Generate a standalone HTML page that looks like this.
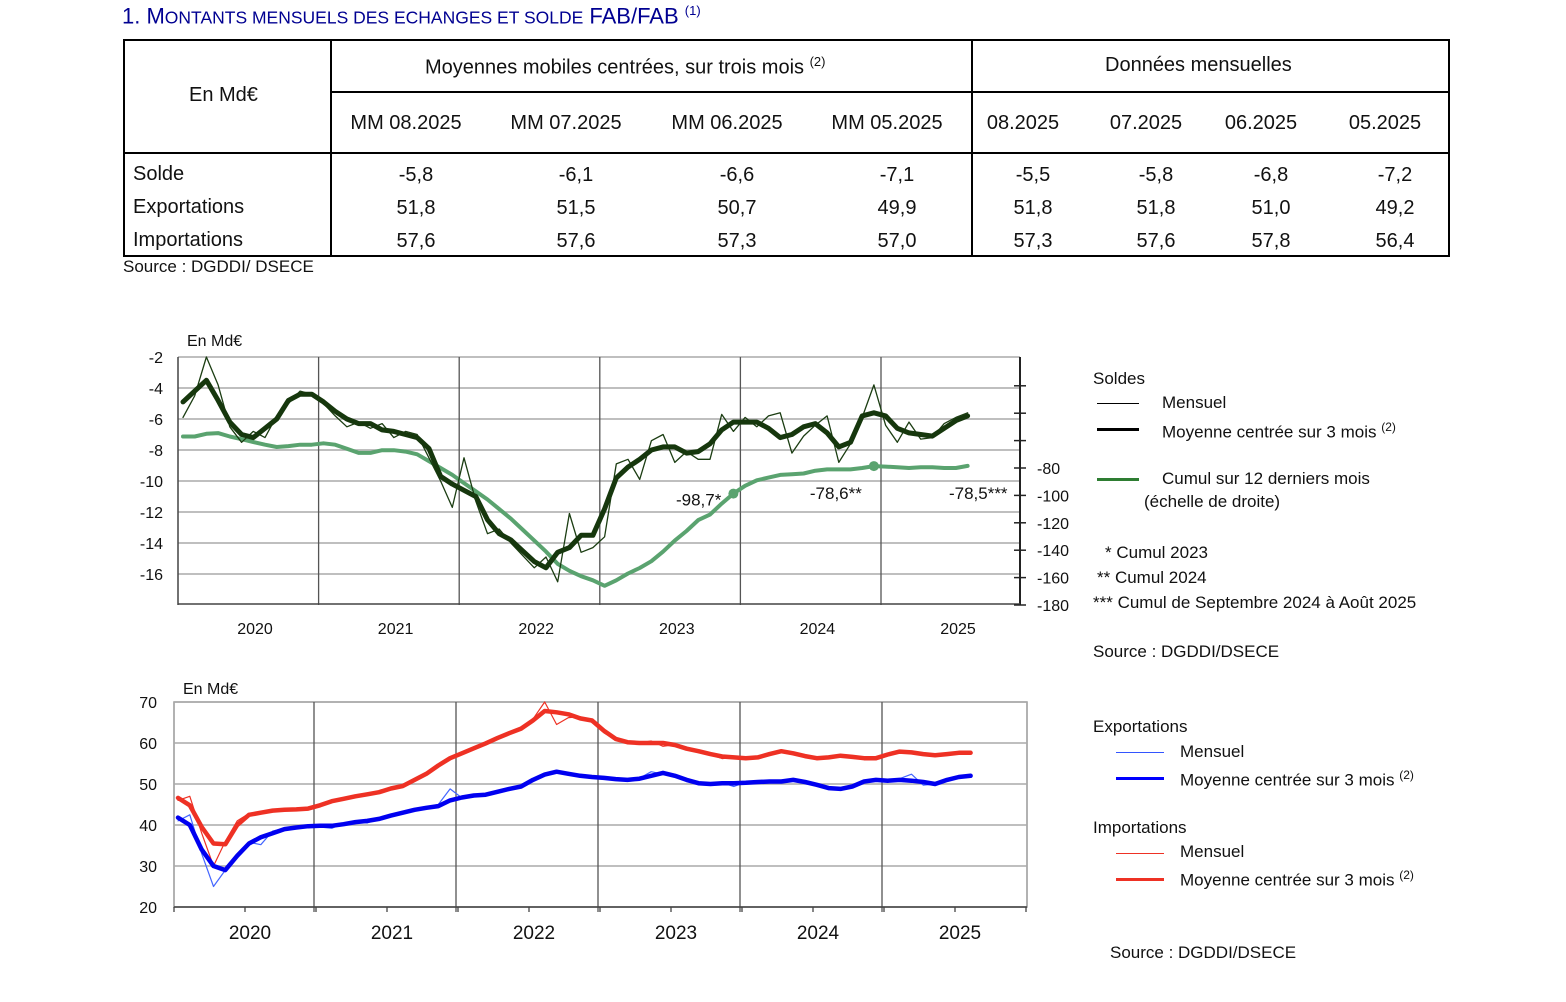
<!DOCTYPE html>
<html><head><meta charset="utf-8">
<style>
body{margin:0;width:1566px;height:1002px;background:#fff;font-family:"Liberation Sans",sans-serif;color:#111;position:relative;overflow:hidden}
.a{position:absolute;white-space:nowrap}
#title{left:122px;top:3px;font-size:22px;color:#000091}
#title .sc{font-size:17.5px}
.lg{font-size:17px}
</style></head><body>
<div class="a" id="title">1. M<span class="sc">ONTANTS MENSUELS DES ECHANGES ET SOLDE</span> FAB/FAB <sup style="font-size:13px">(1)</sup></div>

<div class="a" style="left:123px;top:39px;width:1323px;height:214px;border:2px solid #000"></div>
<div class="a" style="left:330px;top:39px;width:2px;height:216px;background:#000"></div>
<div class="a" style="left:971px;top:39px;width:2px;height:216px;background:#000"></div>
<div class="a" style="left:330px;top:91px;width:1118px;height:2px;background:#000"></div>
<div class="a" style="left:123px;top:152px;width:1325px;height:2px;background:#000"></div>
<div class="a" style="left:189px;top:84px;font-size:20px">En Md€</div>
<div class="a" style="left:425px;top:54px;font-size:20px">Moyennes mobiles centrées, sur trois mois <sup style="font-size:13px">(2)</sup></div>
<div class="a" style="left:1105px;top:54px;font-size:20px">Données mensuelles</div>
<div id="tbl"></div>
<div class="a" style="left:123px;top:257px;font-size:17px">Source : DGDDI/ DSECE</div>

<svg class="a" style="left:0;top:0" width="1566" height="1002" id="svg"></svg>

<div class="a lg" style="left:1093px;top:369px">Soldes</div>
<div class="a" style="left:1097px;top:403px;width:42px;height:1px;background:#000"></div>
<div class="a lg" style="left:1162px;top:393px">Mensuel</div>
<div class="a" style="left:1097px;top:428px;width:42px;height:3px;background:#000"></div>
<div class="a lg" style="left:1162px;top:420px">Moyenne centrée sur 3 mois <sup style="font-size:12px">(2)</sup></div>
<div class="a" style="left:1097px;top:478px;width:42px;height:3px;background:#2e7d32"></div>
<div class="a lg" style="left:1162px;top:469px">Cumul sur 12 derniers mois</div>
<div class="a lg" style="left:1144px;top:492px">(échelle de droite)</div>
<div class="a lg" style="left:1105px;top:543px">* Cumul 2023</div>
<div class="a lg" style="left:1097px;top:568px">** Cumul 2024</div>
<div class="a lg" style="left:1093px;top:593px">*** Cumul de Septembre 2024 à Août 2025</div>
<div class="a lg" style="left:1093px;top:642px">Source : DGDDI/DSECE</div>

<div class="a lg" style="left:1093px;top:717px">Exportations</div>
<div class="a" style="left:1116px;top:752px;width:48px;height:1px;background:#3355ff"></div>
<div class="a lg" style="left:1180px;top:742px">Mensuel</div>
<div class="a" style="left:1116px;top:777px;width:48px;height:3px;background:#0000ff"></div>
<div class="a lg" style="left:1180px;top:768px">Moyenne centrée sur 3 mois <sup style="font-size:12px">(2)</sup></div>
<div class="a lg" style="left:1093px;top:818px">Importations</div>
<div class="a" style="left:1116px;top:853px;width:48px;height:1px;background:#ee3124"></div>
<div class="a lg" style="left:1180px;top:842px">Mensuel</div>
<div class="a" style="left:1116px;top:878px;width:48px;height:3px;background:#ee3124"></div>
<div class="a lg" style="left:1180px;top:868px">Moyenne centrée sur 3 mois <sup style="font-size:12px">(2)</sup></div>
<div class="a lg" style="left:1110px;top:943px">Source : DGDDI/DSECE</div>

<script>
const tableCols=["MM 08.2025","MM 07.2025","MM 06.2025","MM 05.2025","08.2025","07.2025","06.2025","05.2025"];
const tableRows=["Solde","Exportations","Importations"];
const tableVals=[["-5,8","-6,1","-6,6","-7,1","-5,5","-5,8","-6,8","-7,2"],["51,8","51,5","50,7","49,9","51,8","51,8","51,0","49,2"],["57,6","57,6","57,3","57,0","57,3","57,6","57,8","56,4"]];
const yearLabels=["2020","2021","2022","2023","2024","2025"];
const soldeMM=[-4.9,-4.2,-3.5,-4.8,-6.2,-7.0,-7.2,-6.6,-6.0,-4.8,-4.4,-4.4,-4.9,-5.5,-6.0,-6.3,-6.3,-6.7,-6.8,-7.0,-7.2,-7.9,-9.7,-10.2,-10.6,-11.0,-12.5,-13.4,-13.8,-14.5,-15.2,-15.6,-14.6,-14.3,-13.5,-13.5,-11.8,-9.8,-9.1,-8.6,-8.0,-7.8,-7.8,-8.2,-8.1,-7.6,-6.7,-6.2,-6.2,-6.2,-6.6,-7.2,-7.0,-6.5,-6.3,-6.9,-7.8,-7.5,-5.8,-5.6,-5.8,-6.6,-6.9,-7.0,-7.1,-6.6,-6.1,-5.8];
const soldeM=[-5.9,-4.5,-2.0,-3.8,-6.5,-7.5,-6.8,-7.2,-5.8,-5.0,-4.2,-4.4,-5.0,-5.8,-6.5,-6.2,-6.6,-6.3,-7.2,-6.8,-7.0,-8.5,-10.0,-11.7,-8.5,-11.3,-13.4,-13.1,-14.0,-14.8,-15.6,-14.9,-16.5,-12.1,-14.6,-14.3,-13.6,-8.9,-8.6,-9.9,-7.4,-7.0,-8.8,-8.1,-8.6,-8.6,-5.7,-6.8,-5.9,-6.5,-5.8,-5.6,-8.2,-7.1,-6.4,-5.8,-8.8,-7.6,-5.9,-3.8,-6.4,-7.5,-6.2,-7.3,-7.2,-6.3,-5.9,-5.6];
const cumul=[-57,-57,-55,-54.5,-57,-59,-61,-63,-64.7,-64,-63,-63,-62,-63,-66,-69,-69,-67,-67,-68,-70,-75,-80,-85,-91,-97,-103,-110,-117,-125,-133,-141,-150,-155,-159,-162,-166,-162,-157,-153,-148,-141,-133,-126,-118,-114,-106,-98.7,-93,-89,-87,-85,-84.5,-84,-82,-81,-81,-81,-80,-78.6,-79,-79.5,-80,-79.5,-79.5,-80,-80,-78.5];
const cumulLabels=["-98,7*","-78,6**","-78,5***"];
const cumulLabelIdx=[47,59,67];
const impMM=[46.6,44.8,39.5,35.5,35.3,40,42.5,43,43.5,43.7,43.8,44,44.8,45.8,46.4,47,47.5,48,48.9,49.5,51,52.5,54.5,56.3,57.5,58.7,59.9,61.2,62.4,63.5,65.5,67.8,67.5,67,66,65.5,63,61,60.2,60,60,60,59.5,58.6,58,57.3,56.7,56.5,56.3,56.5,57.3,58,57.5,56.8,56.3,56.5,56.9,56.6,56.3,56.3,57.2,57.9,57.7,57.3,57,57.3,57.6,57.6];
const impM=[46,47,38,30,36,41,42.8,43,43.5,43.6,43.9,44.2,45,45.6,46.5,47.2,47.3,48.2,48.8,49.6,51.2,52.8,54.8,56.2,57.6,58.8,60,61.2,62.4,63.8,65.8,70,64.5,66.2,66.4,65,62.5,60.8,60.1,60,60.5,59.2,59.6,58.5,58,57.2,56.2,56.6,56.4,56.6,57.5,58.2,57.3,56.7,56.2,56.6,57,56.5,56.3,56.4,57.4,58,57.5,57.2,57,57.4,57.6,57.3];
const expMM=[41.8,40,34,30,29,32.5,35.5,37,38,39,39.4,39.7,39.8,39.8,40.2,40.7,41,41.5,42.3,43,43.7,44.2,44.6,46,46.7,47.2,47.4,48.1,48.8,49.4,51,52.3,53,52.5,52,51.7,51.5,51.2,51,51.3,52,52.7,52,51,50.2,50,50.2,50.2,50.3,50.5,50.6,50.6,51,50.5,49.8,49,48.8,49.4,50.6,51,50.8,51,50.8,50.5,50,51,51.7,52];
const expM=[41,42.5,33,25,29,33,35.8,35.2,38.5,39.2,39.4,39.6,39.5,39.2,40.5,40.8,40.5,41.6,42.4,43.2,43.4,44.4,45,48.8,46.6,47.4,47.3,48.2,48.6,49.6,51.2,52.4,53.2,52.2,51.9,51.6,51.3,51,50.7,51.4,53,52.4,52.1,50.6,50.1,50.1,50.3,49.4,50.5,50.4,50.7,50.5,51.3,50.2,49.7,49,48.9,49.6,50.7,50.8,50.5,51.3,52.4,49.7,50,51.2,51.8,51.8];

const NS="http://www.w3.org/2000/svg";
const svg=document.getElementById('svg');
function mk(tag,attrs,parent){const e=document.createElementNS(NS,tag);for(const k in attrs)e.setAttribute(k,attrs[k]);(parent||svg).appendChild(e);return e;}
function txt(s,x,y,size,anchor,name){const t=mk('text',{x:x,y:y,'font-size':size,'text-anchor':anchor||'start','font-family':'Liberation Sans, sans-serif',fill:'#111'});t.textContent=s;


return t;}

const tbl=document.getElementById('tbl');
const colX=[406,566,727,887,1023,1146,1261,1385];
tableCols.forEach((c,i)=>{const d=document.createElement('div');d.className='a';d.style.cssText='top:112px;font-size:20px;left:'+(colX[i]-63)+'px;width:126px;text-align:center';if(i===4){d.style.left='980px';d.style.width='86px';}d.textContent=c;


tbl.appendChild(d);});
tableRows.forEach((r,ri)=>{const y=163+ri*33;const d=document.createElement('div');d.className='a';d.style.cssText='left:133px;font-size:20px;top:'+y+'px';d.textContent=r;


tbl.appendChild(d);
tableVals[ri].forEach((v,ci)=>{const e=document.createElement('div');e.className='a';e.style.cssText='font-size:20px;width:80px;text-align:center;top:'+(y+1)+'px;left:'+(colX[ci]+10-40)+'px';e.textContent=v;


tbl.appendChild(e);});});

// ---------- top chart ----------
const T={x0:178,x1:1020,px0:183,dx:11.71};
const tx=i=>T.px0+T.dx*i;
const ty=v=>357+(-2-v)*15.5;
const tyR=v=>468+(-80-v)*1.37;
for(let v=-2;v>=-16;v-=2){mk('line',{x1:T.x0,x2:T.x1,y1:ty(v),y2:ty(v),stroke:'#aaa','stroke-width':1.5});
txt(String(v),163,ty(v)+6,16,'end','y-tick-left');}
for(let k=1;k<=5;k++){const x=T.x0+140.6*k;mk('line',{x1:x,x2:x,y1:357,y2:605,stroke:'#555','stroke-width':1.3});}
mk('line',{x1:T.x0,x2:T.x0,y1:357,y2:605,stroke:'#444','stroke-width':1.5});
mk('line',{x1:T.x1,x2:T.x1,y1:357,y2:605,stroke:'#222','stroke-width':2});
mk('line',{x1:T.x0,x2:T.x1,y1:604,y2:604,stroke:'#444','stroke-width':1.5});
for(let v=-20;v>=-180;v-=20){const y=tyR(v);mk('line',{x1:1014,x2:1026,y1:y,y2:y,stroke:'#222','stroke-width':1.5});
if(v<=-80)txt(String(v),1037,y+6,16,'start','y-tick-right');}
yearLabels.forEach((y,k)=>txt(y,T.x0+140.6*k+77,634,16,'middle','x-label-top-'+y));
txt('En Md€',187,346,16,'start','y-axis-title-top');
function line(vals,fx,fy,color,w,name){const d=vals.map((v,i)=>(i?'L':'M')+fx(i).toFixed(1)+' '+fy(v).toFixed(1)).join(' ');const p=mk('path',{d:d,fill:'none',stroke:color,'stroke-width':w,'stroke-linejoin':'round','stroke-linecap':'round'});


return p;}
line(cumul,tx,tyR,'#5aa36f',4,'cumul-12-months-line');
line(soldeM,tx,ty,'#1b3d12',1.3,'solde-monthly-line');
line(soldeMM,tx,ty,'#16370d',5,'solde-mm-line');
const labDx=[-12,-38,40];
const labDy=[12,33,33];
const labAnchor=['end','middle','end'];
cumulLabelIdx.forEach((idx,k)=>{if(k<2){const c=mk('circle',{cx:tx(idx),cy:tyR(cumul[idx]),r:5,fill:'#5aa36f'});

}
txt(cumulLabels[k],tx(idx)+labDx[k],tyR(cumul[idx])+labDy[k],17,labAnchor[k],'cumul-label');});

// ---------- bottom chart ----------
const B={x0:174,x1:1027,px0:178,dx:11.83};
const bx=i=>B.px0+B.dx*i;
const by=v=>907-(v-20)*4.1;
mk('rect',{x:B.x0,y:by(70),width:B.x1-B.x0,height:by(20)-by(70),fill:'none',stroke:'#999','stroke-width':1.5});
for(let v=20;v<=70;v+=10){mk('line',{x1:B.x0,x2:B.x1,y1:by(v),y2:by(v),stroke:'#aaa','stroke-width':1.5});
txt(String(v),157,by(v)+6,16,'end','y-tick-bottom');}
for(let k=1;k<=5;k++){const x=B.x0+142*k-2;mk('line',{x1:x,x2:x,y1:by(70),y2:912,stroke:'#555','stroke-width':1.3});}
for(let k=0;k<=12;k++){const x=B.x0+71*k;mk('line',{x1:x,x2:x,y1:907,y2:912,stroke:'#444','stroke-width':1.3});}
mk('line',{x1:B.x0,x2:B.x1,y1:907,y2:907,stroke:'#444','stroke-width':1.5});
yearLabels.forEach((y,k)=>txt(y,B.x0+142*k+76,939,19,'middle','x-label-bottom-'+y));
txt('En Md€',183,694,16,'start','y-axis-title-bottom');
line(impM,bx,by,'#ee3124',1.2,'imports-monthly-line');
line(expM,bx,by,'#4466ff',1.2,'exports-monthly-line');
line(impMM,bx,by,'#ee3124',4.5,'imports-mm-line');
line(expMM,bx,by,'#0000f0',4.5,'exports-mm-line');
</script>
</body></html>
